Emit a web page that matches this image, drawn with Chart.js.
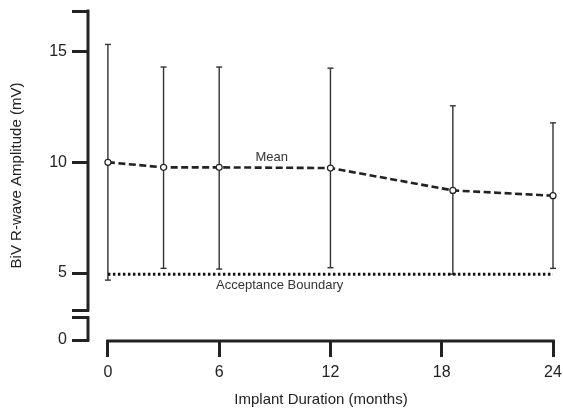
<!DOCTYPE html>
<html>
<head>
<title>BiV R-wave Amplitude</title>
<style>
body { margin: 0; background: #fff; }
</style>
</head>
<body>
<script src="https://cdn.jsdelivr.net/npm/chart.js"></script>
<canvas id="ampChart" width="563" height="411"></canvas>
<script>
// implant duration (months) and BiV R-wave amplitude (mV)
var months   = [0, 3, 6, 12, 18.6, 24];
var meanAmp  = [10.0, 9.77, 9.77, 9.74, 8.73, 8.49];
var upperAmp = [15.32, 14.3, 14.3, 14.25, 12.55, 11.78];
var lowerAmp = [4.68, 5.21, 5.18, 5.24, 4.95, 5.21];

var boundaryMonths = [0, 24];
var boundaryAmp = [4.95, 4.95];

var xTicks = [0, 6, 12, 18, 24];
// upper axis piece runs 3.33..16.83, lower piece 0..1 (broken axis)
var yTicks = [3.33, 5, 10, 15, 16.83];
var yTickLabels = [5, 10, 15];
var lowTicks = [0, 1];
var lowTickLabels = [0];

var FONT = "'Liberation Sans', Arial, sans-serif";
var INK = '#222';

// error bars: low-high pairs split by nulls so the line breaks between them
var errData = [];
months.forEach(function (m, i) {
    errData.push({x: m, y: lowerAmp[i]}, {x: m, y: upperAmp[i]}, {x: m, y: null});
});

var meanData = months.map(function (m, i) { return {x: m, y: meanAmp[i]}; });
var boundData = boundaryMonths.map(function (m, i) { return {x: m, y: boundaryAmp[i]}; });

function fixTicks(list) {
    return function (s) { s.ticks = list.map(function (v) { return {value: v}; }); };
}

function yAxis(min, max, ticks, labels) {
    return {
        type: 'linear',
        position: 'left',
        stack: 'amp',
        stackWeight: max - min,
        min: min,
        max: max,
        afterFit: function (s) { s.width = 89; s.paddingTop = 0; s.paddingBottom = 0; },
        afterBuildTicks: fixTicks(ticks),
        grid: { drawOnChartArea: false, tickLength: 17, lineWidth: 3, color: INK },
        border: { display: false },
        ticks: {
            font: { family: FONT, size: 16 },
            color: INK,
            padding: 5,
            autoSkip: false,
            callback: function (v) { return labels.indexOf(v) >= 0 ? String(v) : ''; }
        }
    };
}

// draws the broken axis lines, the in-plot notes and the y title
var decor = {
    id: 'decor',
    afterDraw: function (chart) {
        var ctx = chart.ctx;
        ctx.save();
        ctx.strokeStyle = INK;
        ctx.lineWidth = 3;
        ['y', 'y0'].forEach(function (id) {
            var s = chart.scales[id];
            var t = s.ticks;
            var x = s.right - 1;
            ctx.beginPath();
            ctx.moveTo(x, s.getPixelForValue(t[0].value) + 1.5);
            ctx.lineTo(x, s.getPixelForValue(t[t.length - 1].value) - 1.5);
            ctx.stroke();
        });
        var sx = chart.scales.x;
        ctx.beginPath();
        ctx.moveTo(sx.getPixelForValue(0) - 1.5, sx.top + 1);
        ctx.lineTo(sx.getPixelForValue(24) + 1.5, sx.top + 1);
        ctx.stroke();

        var sy = chart.scales.y;
        ctx.fillStyle = '#333';
        ctx.font = '13px ' + FONT;
        ctx.textAlign = 'center';
        ctx.textBaseline = 'middle';
        ctx.fillText('Mean', sx.getPixelForValue(8.83), sy.getPixelForValue(10.24));
        ctx.fillText('Acceptance Boundary', sx.getPixelForValue(9.26), sy.getPixelForValue(4.44));

        var area = chart.chartArea;
        ctx.fillStyle = INK;
        ctx.font = '15px ' + FONT;
        ctx.translate(17, (area.top + area.bottom) / 2);
        ctx.rotate(-Math.PI / 2);
        ctx.fillText('BiV R-wave Amplitude (mV)', 0, 0);
        ctx.restore();
    }
};

const ctx = document.getElementById('ampChart').getContext('2d');
const ampChart = new Chart(ctx, {
    type: 'line',
    data: {
        datasets: [{
            label: 'Mean',
            data: meanData,
            yAxisID: 'y',
            borderColor: INK,
            borderWidth: 2.6,
            borderDash: [7, 3.5],
            pointRadius: 3,
            pointBackgroundColor: '#fff',
            pointBorderColor: INK,
            pointBorderWidth: 1.2,
            clip: false,
            order: 0
        }, {
            label: 'Acceptance Boundary',
            data: boundData,
            yAxisID: 'y',
            borderColor: '#111',
            borderWidth: 3,
            borderDash: [2.5, 2.5],
            pointRadius: 0,
            clip: false,
            order: 1
        }, {
            label: 'SD',
            data: errData,
            yAxisID: 'y',
            borderColor: '#333',
            borderWidth: 1.4,
            spanGaps: false,
            pointStyle: 'line',
            pointRadius: 3,
            pointBorderColor: '#333',
            pointBorderWidth: 1.4,
            clip: false,
            order: 2
        }]
    },
    options: {
        responsive: false,
        animation: false,
        devicePixelRatio: 1,
        layout: { padding: { top: 11, right: 10, left: 0, bottom: 0 } },
        plugins: { legend: { display: false }, tooltip: { enabled: false } },
        scales: {
            x: {
                type: 'linear',
                min: -1.02,
                max: 24,
                afterFit: function (s) { s.height = 71; s.paddingLeft = 0; s.paddingRight = 0; },
                afterBuildTicks: fixTicks(xTicks),
                grid: { drawOnChartArea: false, tickLength: 17, lineWidth: 3, color: INK },
                border: { display: false },
                ticks: { font: { family: FONT, size: 16 }, color: INK, padding: 6, maxRotation: 0, autoSkip: false },
                title: {
                    display: true,
                    text: 'Implant Duration (months)',
                    font: { family: FONT, size: 15 },
                    color: INK,
                    padding: { top: 0, bottom: 2 }
                }
            },
            // left boxes are stacked in reverse order, so the lower piece comes first
            y0: yAxis(0, 1.354, lowTicks, lowTickLabels),
            y: yAxis(3.33, 16.83, yTicks, yTickLabels)
        }
    },
    plugins: [decor]
});
</script>
</body>
</html>
